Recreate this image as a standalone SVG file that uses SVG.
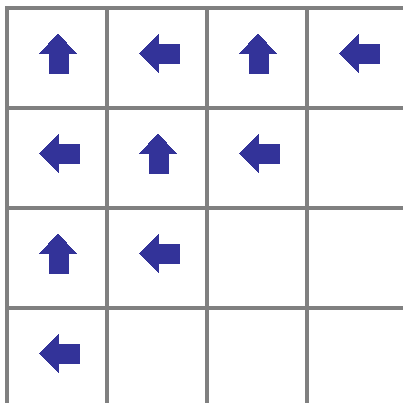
<svg xmlns="http://www.w3.org/2000/svg" xmlns:xlink="http://www.w3.org/1999/xlink" width="403" height="403" viewBox="0 0 403 403">
<style>
.grid{stroke:#808080;stroke-width:4;fill:none}
.arr{fill:#333399;shape-rendering:crispEdges}
</style>
<defs>
<path id="up" class="arr" d="M51,25 L70,46 L62,46 L62,66 L42,66 L42,46 L32,46 Z"/>
<path id="left" class="arr" d="M32,45 L52,25 L52,36 L73,36 L73,56 L52,56 L52,66 Z"/>
</defs>
<rect width="403" height="403" fill="#ffffff"/>
<g id="grid" class="grid">
<line x1="5" y1="8" x2="403" y2="8"/>
<line x1="5" y1="108" x2="403" y2="108"/>
<line x1="5" y1="208" x2="403" y2="208"/>
<line x1="5" y1="308" x2="403" y2="308"/>
<line x1="7" y1="6" x2="7" y2="403"/>
<line x1="107" y1="6" x2="107" y2="403"/>
<line x1="207" y1="6" x2="207" y2="403"/>
<line x1="307" y1="6" x2="307" y2="403"/>
</g>
<g id="cell-0-0" transform="translate(7,8)"><use xlink:href="#up"/></g>
<g id="cell-0-1" transform="translate(107,8)"><use xlink:href="#left"/></g>
<g id="cell-0-2" transform="translate(207,8)"><use xlink:href="#up"/></g>
<g id="cell-0-3" transform="translate(307,8)"><use xlink:href="#left"/></g>
<g id="cell-1-0" transform="translate(7,108)"><use xlink:href="#left"/></g>
<g id="cell-1-1" transform="translate(107,108)"><use xlink:href="#up"/></g>
<g id="cell-1-2" transform="translate(207,108)"><use xlink:href="#left"/></g>
<g id="cell-2-0" transform="translate(7,208)"><use xlink:href="#up"/></g>
<g id="cell-2-1" transform="translate(107,208)"><use xlink:href="#left"/></g>
<g id="cell-3-0" transform="translate(7,308)"><use xlink:href="#left"/></g>
</svg>
